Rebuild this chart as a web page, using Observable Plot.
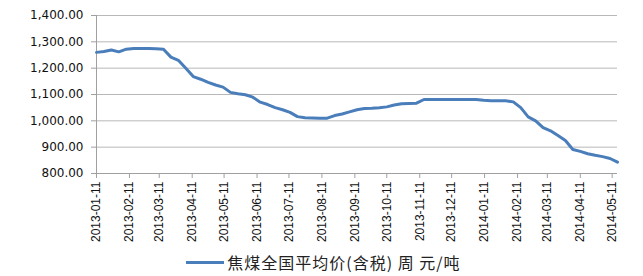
<!DOCTYPE html>
<html>
<head>
<meta charset="utf-8">
<script src="https://cdn.jsdelivr.net/npm/d3@7"></script>
<script src="https://cdn.jsdelivr.net/npm/@observablehq/plot@0.6"></script>
<style>
  html, body { margin: 0; padding: 0; background: #fff; }
  #chart { width: 643px; height: 276px; overflow: hidden; }
  #legend { height: 28px; display: flex; align-items: center; justify-content: center; padding-left: 4px;
    font-family: "Noto Sans CJK SC", sans-serif; font-size: 16px; color: #222; letter-spacing: 1px; }
  #legend .sw { display: inline-block; width: 38px; height: 3px; background: #4a7ebb; margin-right: 3px; }
</style>
</head>
<body>
<div id="chart"></div>
<script>
const dates = [
  "2013-01-11","2013-01-18","2013-01-25","2013-02-01","2013-02-08","2013-02-15","2013-02-22","2013-03-01",
  "2013-03-08","2013-03-15","2013-03-22","2013-03-29","2013-04-05","2013-04-12","2013-04-19","2013-04-26",
  "2013-05-03","2013-05-10","2013-05-17","2013-05-24","2013-05-31","2013-06-07","2013-06-14","2013-06-21",
  "2013-06-28","2013-07-05","2013-07-12","2013-07-19","2013-07-26","2013-08-02","2013-08-09","2013-08-16",
  "2013-08-23","2013-08-30","2013-09-06","2013-09-13","2013-09-20","2013-09-27","2013-10-04","2013-10-11",
  "2013-10-18","2013-10-25","2013-11-01","2013-11-08","2013-11-15","2013-11-22","2013-11-29","2013-12-06",
  "2013-12-13","2013-12-20","2013-12-27","2014-01-03","2014-01-10","2014-01-17","2014-01-24","2014-01-31",
  "2014-02-07","2014-02-14","2014-02-21","2014-02-28","2014-03-07","2014-03-14","2014-03-21","2014-03-28",
  "2014-04-04","2014-04-11","2014-04-18","2014-04-25","2014-05-02","2014-05-09","2014-05-16"
];
const prices = [
  1260,1263,1269,1262,1272,1275,1275,1275,1274,1272,
  1242,1230,1200,1168,1158,1146,1136,1128,1108,1103,
  1099,1090,1071,1062,1050,1042,1032,1016,1012,1011,
  1010,1010,1020,1026,1034,1042,1047,1048,1050,1053,
  1060,1065,1066,1067,1081,1081,1081,1081,1081,1081,
  1081,1081,1078,1076,1076,1076,1072,1050,1015,1000,
  974,962,944,925,891,884,875,869,864,857,843
];
const tickLabels = [
  "2013-01-11","2013-02-11","2013-03-11","2013-04-11","2013-05-11","2013-06-11","2013-07-11","2013-08-11",
  "2013-09-11","2013-10-11","2013-11-11","2013-12-11","2014-01-11","2014-02-11","2014-03-11","2014-04-11","2014-05-11"
];
const yTicks = [800, 900, 1000, 1100, 1200, 1300, 1400];
const seriesName = "焦煤全国平均价(含税) 周 元/吨";

const parse = d3.utcParse("%Y-%m-%d");
const data = dates.map((d, i) => ({date: parse(d), value: prices[i]}));
const tickDates = tickLabels.map(parse);
const x0 = parse(dates[0]), x1 = parse(dates[dates.length - 1]);

const chart = Plot.plot({
  width: 643,
  height: 248,
  marginLeft: 96,
  marginRight: 26,
  marginTop: 15,
  marginBottom: 75,
  x: {type: "utc", domain: [x0, x1]},
  y: {domain: [800, 1400]},
  style: {background: "#fff"},
  marks: [
    Plot.gridY(yTicks, {stroke: "#b8b8b8", strokeOpacity: 1, strokeWidth: 1}),
    Plot.axisY(yTicks, {tickFormat: d3.format(",.2f"), tickSize: 5, tickPadding: 8, stroke: "#a0a0a0",
      fill: "#111", fontSize: 12, fontFamily: "DejaVu Sans", label: null}),
    Plot.axisX(tickDates, {tickFormat: d3.utcFormat("%Y-%m-%d"), tickRotate: -90, tickSize: 5, tickPadding: 3,
      stroke: "#a0a0a0", fill: "#111", fontSize: 12, fontFamily: "Liberation Sans", label: null}),
    Plot.ruleY([800], {stroke: "#a0a0a0"}),
    Plot.ruleX([x0], {y1: 800, y2: 1400, stroke: "#a0a0a0"}),
    Plot.line(data, {x: "date", y: "value", stroke: "#4a7ebb", strokeWidth: 3, strokeLinejoin: "round"})
  ]
});
const root = document.getElementById("chart");
root.appendChild(chart);
const legend = document.createElement("div");
legend.id = "legend";
legend.innerHTML = '<span class="sw"></span><span></span>';
legend.lastChild.textContent = seriesName;
root.appendChild(legend);
</script>
</body>
</html>
